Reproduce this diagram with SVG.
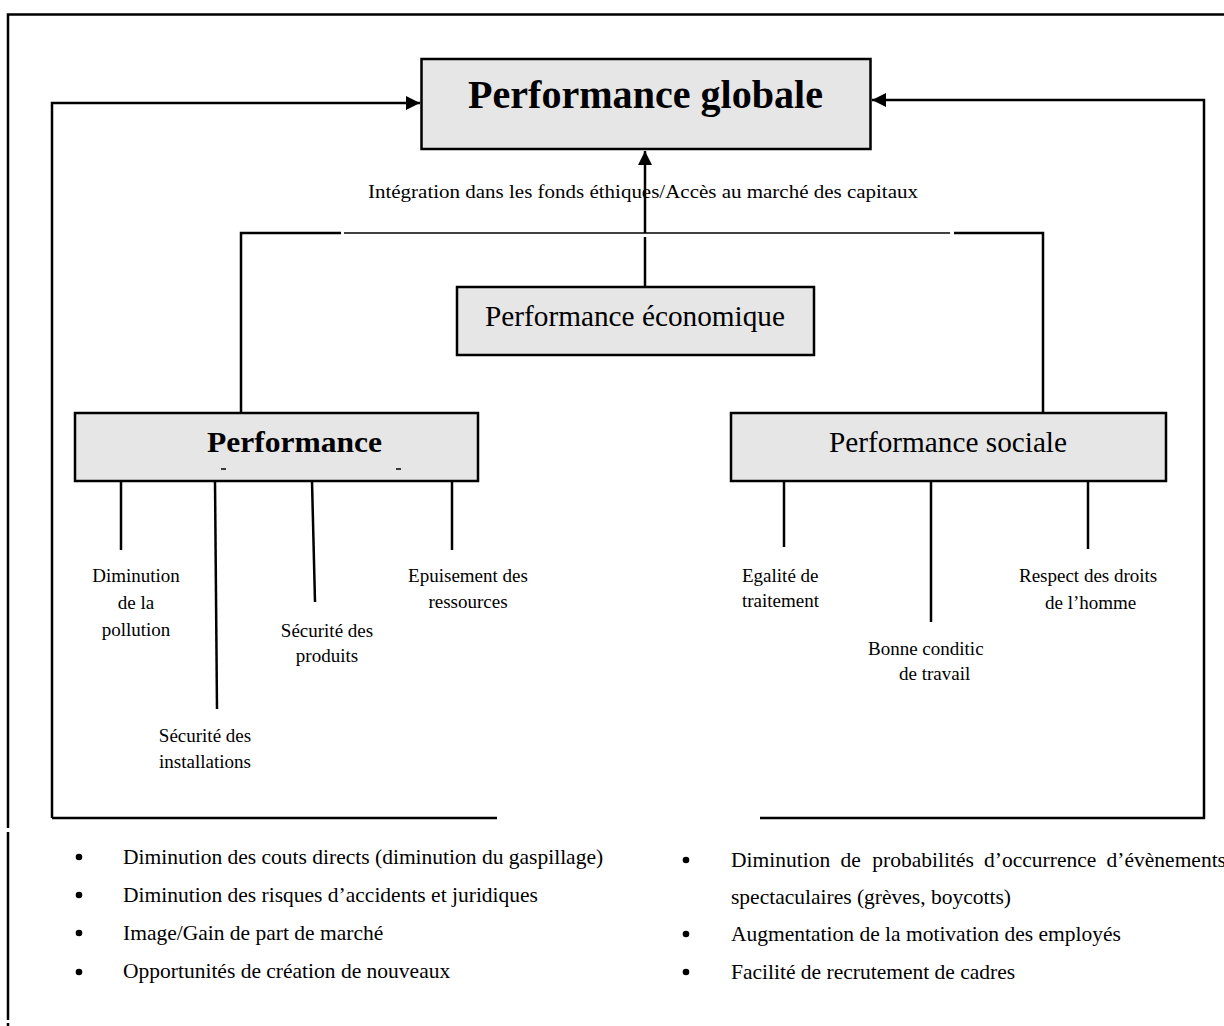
<svg xmlns="http://www.w3.org/2000/svg" width="1224" height="1026" viewBox="0 0 1224 1026">
<defs>
<style>
.box{fill:#e6e6e6;stroke:#000;stroke-width:2.5}
.ln{fill:none;stroke:#000;stroke-width:2.5}
.thin{fill:none;stroke:#000;stroke-width:1.5}
.t{font-family:"Liberation Serif","Times New Roman",serif;fill:#000}
.s19{font-size:19px}
.li{font-size:21.5px}
.b{font-weight:bold}
.mid{text-anchor:middle}
</style>
<marker id="arr" viewBox="0 0 10 10" refX="10" refY="5" markerWidth="15" markerHeight="14" markerUnits="userSpaceOnUse" orient="auto">
<path d="M0,0 L10,5 L0,10 Z" fill="#000"/>
</marker>
</defs>
<rect width="1224" height="1026" fill="#fff"/>

<g id="frame">
<path class="ln" d="M8,1026 V1023 M8,1020 V832 M8,828 V14.5 H1224" stroke-width="2"/>
</g>

<g id="connectors">
<path class="ln" d="M52,818 V103 H420" marker-end="url(#arr)"/>
<path class="ln" d="M52,818 H497"/>
<path class="ln" d="M760,818 H1204 V100 H872" marker-end="url(#arr)"/>
<path class="ln" d="M645,287 V237"/>
<path class="ln" d="M645,233 V151" marker-end="url(#arr)"/>
<path class="ln" d="M241,413 V233 H341" stroke-width="2"/>
<path class="thin" d="M344,233 H950"/>
<path class="ln" d="M954,233 H1043 V413" stroke-width="2"/>
<path class="ln" d="M121,481 V550"/>
<path class="ln" d="M215,481 L217,709"/>
<path class="ln" d="M312,481 L315,602"/>
<path class="ln" d="M452,481 V550"/>
<path class="ln" d="M784,481 V547"/>
<path class="ln" d="M931,481 V622"/>
<path class="ln" d="M1088,481 V549"/>
</g>

<g id="node-globale">
<rect class="box" x="421.5" y="59" width="449" height="90"/>
<text class="t b mid" x="645.5" y="108" font-size="39" textLength="355" lengthAdjust="spacingAndGlyphs">Performance globale</text>
</g>

<g id="label-integration">
<text class="t s19" x="368" y="198" textLength="550" lengthAdjust="spacingAndGlyphs">Intégration dans les fonds éthiques/Accès au marché des capitaux</text>
</g>

<g id="node-economique">
<rect class="box" x="457" y="287" width="357" height="68"/>
<text class="t" x="485" y="326" font-size="29" textLength="300" lengthAdjust="spacingAndGlyphs">Performance économique</text>
</g>

<g id="node-environnementale">
<rect class="box" x="75" y="413" width="403" height="68"/>
<text class="t b" x="207" y="452" font-size="30" textLength="175" lengthAdjust="spacingAndGlyphs">Performance</text>
<path class="thin" d="M221,469 H226 M396,469 H401"/>
</g>

<g id="node-sociale">
<rect class="box" x="731" y="413" width="435" height="68"/>
<text class="t" x="829" y="452" font-size="29" textLength="238" lengthAdjust="spacingAndGlyphs">Performance sociale</text>
</g>

<g id="leaf-pollution">
<text class="t s19 mid" x="136" y="582">Diminution</text>
<text class="t s19 mid" x="136" y="609">de la</text>
<text class="t s19 mid" x="136" y="636">pollution</text>
</g>
<g id="leaf-installations">
<text class="t s19 mid" x="205" y="742">Sécurité des</text>
<text class="t s19 mid" x="205" y="768">installations</text>
</g>
<g id="leaf-produits">
<text class="t s19 mid" x="327" y="637">Sécurité des</text>
<text class="t s19 mid" x="327" y="662">produits</text>
</g>
<g id="leaf-ressources">
<text class="t s19 mid" x="468" y="582">Epuisement des</text>
<text class="t s19 mid" x="468" y="608">ressources</text>
</g>
<g id="leaf-egalite">
<text class="t s19" x="742" y="582">Egalité de</text>
<text class="t s19" x="742" y="607">traitement</text>
</g>
<g id="leaf-conditions">
<text class="t s19" x="868" y="655">Bonne conditic</text>
<text class="t s19" x="899" y="680">de travail</text>
</g>
<g id="leaf-droits">
<text class="t s19" x="1019" y="582">Respect des droits</text>
<text class="t s19" x="1045" y="609">de l’homme</text>
</g>

<g id="list-left">
<circle cx="79" cy="857" r="3.3"/>
<circle cx="79" cy="895" r="3.3"/>
<circle cx="79" cy="933" r="3.3"/>
<circle cx="79" cy="972" r="3.3"/>
<text class="t li" x="123" y="864">Diminution des couts directs (diminution du gaspillage)</text>
<text class="t li" x="123" y="902">Diminution des risques d’accidents et juridiques</text>
<text class="t li" x="123" y="940">Image/Gain de part de marché</text>
<text class="t li" x="123" y="978">Opportunités de création de nouveaux</text>
</g>

<g id="list-right">
<circle cx="686" cy="860" r="3.3"/>
<circle cx="686" cy="934" r="3.3"/>
<circle cx="686" cy="972" r="3.3"/>
<text class="t li" y="867"><tspan x="731">Diminution</tspan> <tspan x="840.5">de</tspan> <tspan x="872.3">probabilités</tspan> <tspan x="984.1">d’occurrence</tspan> <tspan x="1106.6">d’évènements</tspan></text>
<text class="t li" x="731" y="904">spectaculaires (grèves, boycotts)</text>
<text class="t li" x="731" y="941">Augmentation de la motivation des employés</text>
<text class="t li" x="731" y="979">Facilité de recrutement de cadres</text>
</g>
</svg>
